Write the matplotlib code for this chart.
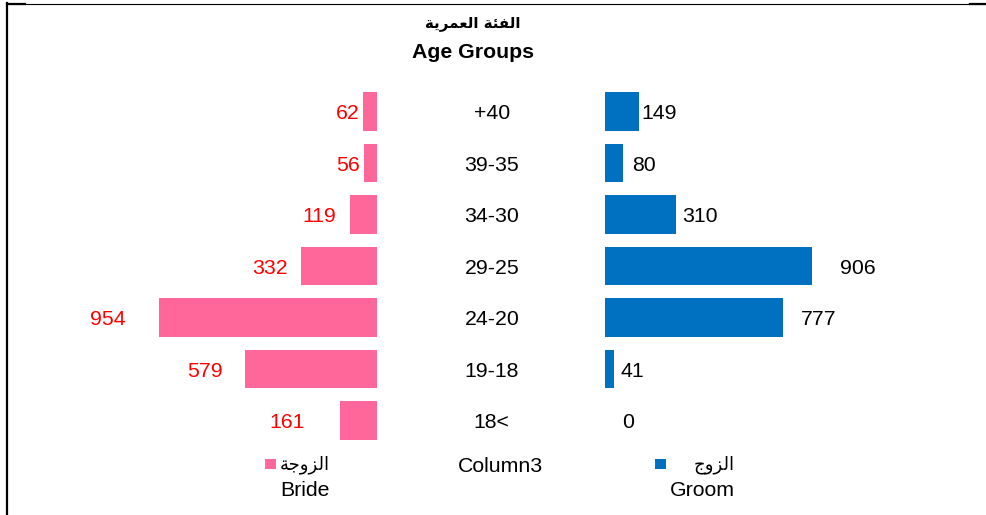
import matplotlib
matplotlib.use("Agg")
import matplotlib.pyplot as plt
from matplotlib.patches import Rectangle
from matplotlib.lines import Line2D
from matplotlib.transforms import blended_transform_factory, offset_copy

# ---------------- data ----------------
age_groups = ["+40", "39-35", "34-30", "29-25", "24-20", "19-18", "18<"]
bride = [62, 56, 119, 332, 954, 579, 161]
groom = [149, 80, 310, 906, 777, 41, 0]
title_ar = "الفئة العمرية"
title_en = "Age Groups"
bride_ar, bride_en = "الزوجة", "Bride"
groom_ar, groom_en = "الزوج", "Groom"
center_name = "Column3"

# label gaps (pixels) as placed in the original
bride_gap = [4, 5, 14, 14, 34, 22, 36]
groom_gap = [2, 9, 6, 28, 18, 6, 17]

# ---------------- Arabic shaping (presentation forms, visual order) ----------------
FORMS = {  # isolated, final, initial, medial
    'ا': ('\uFE8D', '\uFE8E', None, None),
    'ل': ('\uFEDD', '\uFEDE', '\uFEDF', '\uFEE0'),
    'ف': ('\uFED1', '\uFED2', '\uFED3', '\uFED4'),
    'ئ': ('\uFE89', '\uFE8A', '\uFE8B', '\uFE8C'),
    'ة': ('\uFE93', '\uFE94', None, None),
    'ع': ('\uFEC9', '\uFECA', '\uFECB', '\uFECC'),
    'م': ('\uFEE1', '\uFEE2', '\uFEE3', '\uFEE4'),
    'ر': ('\uFEAD', '\uFEAE', None, None),
    'ي': ('\uFEF1', '\uFEF2', '\uFEF3', '\uFEF4'),
    'ز': ('\uFEAF', '\uFEB0', None, None),
    'و': ('\uFEED', '\uFEEE', None, None),
    'ج': ('\uFE9D', '\uFE9E', '\uFE9F', '\uFEA0'),
}


def shape(s):
    out = []
    for w in s.split(' '):
        ch = list(w)
        res = []
        for i, c in enumerate(ch):
            f = FORMS.get(c)
            if f is None:
                res.append(c)
                continue
            prev_j = i > 0 and ch[i - 1] in FORMS and FORMS[ch[i - 1]][2] is not None
            next_j = i < len(ch) - 1 and ch[i + 1] in FORMS and f[2] is not None
            if prev_j and next_j:
                res.append(f[3])
            elif prev_j:
                res.append(f[1])
            elif next_j:
                res.append(f[2])
            else:
                res.append(f[0])
        out.append(''.join(reversed(res)))
    return ' '.join(reversed(out))


# ---------------- figure ----------------
W, H = 986, 515
fig = plt.figure(figsize=(W / 100, H / 100), dpi=100)
fig.patch.set_facecolor("white")

LAT = ["Liberation Sans", "DejaVu Sans"]
ARB = ["DejaVu Sans"]
FS = 15.3
PINK = "#FF6699"
BLUE = "#0070C0"

scale = 0.2286  # pixels per unit
top_px, bot_px = 85.75, 446.25
yb = (H - bot_px) / H
yh = (bot_px - top_px) / H

l_left, l_right = 40, 377.3
r_left, r_right = 605, 945

axL = fig.add_axes([l_left / W, yb, (l_right - l_left) / W, yh])
axR = fig.add_axes([r_left / W, yb, (r_right - r_left) / W, yh])

n = len(age_groups)
ypos = list(range(n))
bh = 0.745

axL.barh(ypos, bride, height=bh, color=PINK, edgecolor="none", linewidth=0)
axR.barh(ypos, groom, height=bh, color=BLUE, edgecolor="none", linewidth=0)

axL.set_xlim((l_right - l_left) / scale, 0)
axR.set_xlim(0, (r_right - r_left) / scale)
for ax in (axL, axR):
    ax.set_ylim(n - 0.5, -0.5)
    ax.axis("off")

DY = -2  # pixel nudge downward for text
for i, (v, g) in enumerate(zip(bride, bride_gap)):
    axL.annotate(str(v), xy=(v, i), xytext=(-g, DY), textcoords="offset pixels",
                 ha="right", va="center", color="#FF0000", fontsize=FS, family=LAT)
for i, (v, g) in enumerate(zip(groom, groom_gap)):
    axR.annotate(str(v), xy=(v, i), xytext=(g, DY), textcoords="offset pixels",
                 ha="left", va="center", color="black", fontsize=FS, family=LAT)

tr = offset_copy(blended_transform_factory(fig.transFigure, axL.transData),
                 fig=fig, x=0, y=DY, units="dots")
for i, lab in enumerate(age_groups):
    fig.text(491.8 / W, i, lab, transform=tr, ha="center", va="center",
             fontsize=FS, family=LAT)


def P(x, y):
    return x / W, 1 - y / H


# titles
fig.text(*P(473, 23.5), shape(title_ar), ha="center", va="center",
         fontsize=10.8, fontweight="bold", family=ARB)
fig.text(*P(473, 53), title_en, ha="center", va="center",
         fontsize=FS, fontweight="bold", family=LAT)

# legend
for (x0, c) in ((265, PINK), (655, BLUE)):
    fig.patches.append(Rectangle(P(x0, 469.3), 11 / W, 10 / H, transform=fig.transFigure,
                                 facecolor=c, edgecolor="none"))
fig.text(*P(329.5, 465), shape(bride_ar), ha="right", va="center", fontsize=13, family=ARB)
fig.text(*P(329.5, 491), bride_en, ha="right", va="center", fontsize=FS, family=LAT)
fig.text(*P(734.5, 465), shape(groom_ar), ha="right", va="center", fontsize=13, family=ARB)
fig.text(*P(734.5, 491), groom_en, ha="right", va="center", fontsize=FS, family=LAT)
fig.text(*P(500, 466), center_name, ha="center", va="center", fontsize=FS, family=LAT)

# frame pieces
fig.lines.append(Line2D([7 / W, 1], [1 - 3.5 / H] * 2, transform=fig.transFigure,
                        color="black", linewidth=0.8))
fig.lines.append(Line2D([7 / W, 25 / W], [1 - 4 / H] * 2, transform=fig.transFigure,
                        color="black", linewidth=1.6))
fig.lines.append(Line2D([970 / W, 1], [1 - 4.2 / H] * 2, transform=fig.transFigure,
                        color="black", linewidth=1.6))
fig.lines.append(Line2D([7.2 / W] * 2, [0, 1 - 3 / H], transform=fig.transFigure,
                        color="black", linewidth=1.6))

fig.savefig("out.png", dpi=100, facecolor="white")
